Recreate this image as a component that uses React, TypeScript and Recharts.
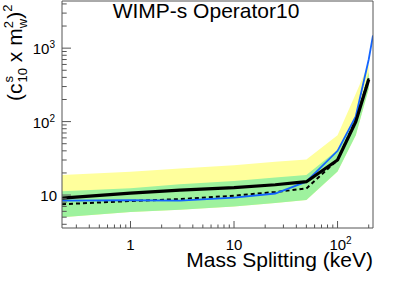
import React from 'react'
import {
  ComposedChart,
  Area,
  Line,
  XAxis,
  YAxis,
  ReferenceLine,
} from 'recharts'

// mass splitting grid (keV)
const MASS = [0.218, 1, 3, 10, 25, 50, 100, 150, 200, 220]

// bands and limits on (c10^s x mw^2)^2
const BAND2_HI = [18.7, 20.7, 22.9, 25.5, 28.5, 30.5, 65, 240, 620, null]
const BAND1_HI = [11.3, 12.4, 14, 15.5, 17.3, 18.7, 41, 111, 470, null]
const BAND_LO = [5.0, 5.9, 6.3, 7.0, 7.8, 8.55, 21, 65, 280, null]
const MEDIAN = [9.1, 10.6, 11.7, 12.6, 13.8, 15.2, 30, 100, 375, null]
const EXPECTED = [7.5, 8.3, 8.8, 9.8, 11, 12.3, 30, 105, 390, null]
const OBSERVED = [8.4, 8.5, 8.4, 9.2, 10.5, 15.2, 40, 118, 700, 1490]

const X_DOMAIN = [0.218, 220]
const Y_DOMAIN = [3.56, 4385]
const X_MAJOR = [1, 10, 100]
const X_MINOR = [0.3, 0.4, 0.5, 0.6, 0.7, 0.8, 0.9, 2, 3, 4, 5, 6, 7, 8, 9, 20, 30, 40, 50, 60, 70, 80, 90, 200]
const Y_MAJOR = [10, 100, 1000]
const Y_MINOR = [4, 5, 6, 7, 8, 9, 20, 30, 40, 50, 60, 70, 80, 90, 200, 300, 400, 500, 600, 700, 800, 900, 2000, 3000, 4000]

const AXIS = '#555'
const FONT = '"Liberation Sans", Arial, Helvetica, sans-serif'

const data = MASS.map((m, i) => ({
  mass: m,
  yellow: BAND2_HI[i] == null ? undefined : [BAND_LO[i], BAND2_HI[i]],
  green: BAND1_HI[i] == null ? undefined : [BAND_LO[i], BAND1_HI[i]],
  median: MEDIAN[i],
  expected: EXPECTED[i],
  observed: OBSERVED[i],
}))

function Label10({ v, ...rest }: any) {
  const e = Math.round(Math.log10(v))
  if (e <= 1) return <text {...rest}>{String(v)}</text>
  return (
    <text {...rest}>
      10<tspan fontSize={10} dy={-6}>{e}</tspan>
    </text>
  )
}

function XTick({ x, y, payload }: any) {
  const v = payload.value
  const major = X_MAJOR.includes(v)
  return (
    <g>
      <line x1={x} x2={x} y1={y} y2={y - (major ? 7 : 3.5)} stroke={AXIS} />
      {major && (
        <Label10 v={v} x={v >= 100 ? x + 3 : x} y={y + 22} textAnchor="middle" fontSize={15} fill="#000" fontFamily={FONT} />
      )}
    </g>
  )
}

function YTick({ x, y, payload }: any) {
  const v = payload.value
  const major = Y_MAJOR.includes(v)
  return (
    <g>
      <line x1={x} x2={x + (major ? 9 : 4.7)} y1={y} y2={y} stroke={AXIS} />
      {major && (
        <Label10 v={v} x={v >= 100 ? x - 7 : x - 5} y={y + 6} textAnchor="end" fontSize={15} fill="#000" fontFamily={FONT} />
      )}
    </g>
  )
}

export default function App() {
  return (
    <div style={{ position: 'absolute', left: 0, top: 0, width: 415, height: 281, background: '#fff' }}>
      <ComposedChart width={415} height={281} data={data} margin={{ top: 1, right: 42, left: 0, bottom: 0 }}>
        <XAxis
          dataKey="mass"
          type="number"
          scale="log"
          domain={X_DOMAIN}
          allowDataOverflow
          ticks={[...X_MINOR, ...X_MAJOR].sort((a, b) => a - b)}
          interval={0}
          tickSize={0}
          tickMargin={0}
          tickLine={false}
          axisLine={{ stroke: AXIS }}
          tick={(p: any) => <XTick {...p} />}
          height={53}
        />
        <YAxis
          type="number"
          scale="log"
          domain={Y_DOMAIN}
          allowDataOverflow
          ticks={[...Y_MINOR, ...Y_MAJOR].sort((a, b) => a - b)}
          interval={0}
          tickSize={0}
          tickMargin={0}
          tickLine={false}
          axisLine={{ stroke: AXIS }}
          tick={(p: any) => <YTick {...p} />}
          width={62}
        />
        <Area dataKey="yellow" type="linear" stroke="none" fill="#ffff9c" fillOpacity={1} isAnimationActive={false} />
        <Area dataKey="green" type="linear" stroke="none" fill="#9ef29e" fillOpacity={1} isAnimationActive={false} />
        <Line dataKey="expected" type="linear" stroke="#000" strokeWidth={2} strokeDasharray="4 3" dot={false} isAnimationActive={false} />
        <Line dataKey="observed" type="linear" stroke="#1465ff" strokeWidth={1.8} dot={false} isAnimationActive={false} />
        <Line dataKey="median" type="linear" stroke="#000" strokeWidth={3.2} dot={false} isAnimationActive={false} />
        <ReferenceLine y={Y_DOMAIN[1]} stroke={AXIS} />
        <ReferenceLine x={X_DOMAIN[1]} stroke={AXIS} />
      </ComposedChart>
      <svg width={415} height={281} style={{ position: 'absolute', left: 0, top: 0, pointerEvents: 'none' }} fontFamily={FONT}>
        <text x={206} y={17.5} textAnchor="middle" fontSize={21} fill="#000">WIMP-s Operator10</text>
        <text x={373} y={267} textAnchor="end" fontSize={21} fill="#000">Mass Splitting (keV)</text>
        <text transform="translate(22,101) rotate(-90)" fontSize={21} fill="#000">
          (c
          <tspan fontSize={13} dx={1} dy={-9}>s</tspan>
          <tspan fontSize={13} dx={-6.5} dy={14}>10</tspan>
          <tspan fontSize={21} dy={-5}> x m</tspan>
          <tspan fontSize={13} dy={-9}>2</tspan>
          <tspan fontSize={13} dx={-7} dy={14}>w</tspan>
          <tspan fontSize={21} dy={-5}>)</tspan>
          <tspan fontSize={13} dy={-10}>2</tspan>
        </text>
      </svg>
    </div>
  )
}
